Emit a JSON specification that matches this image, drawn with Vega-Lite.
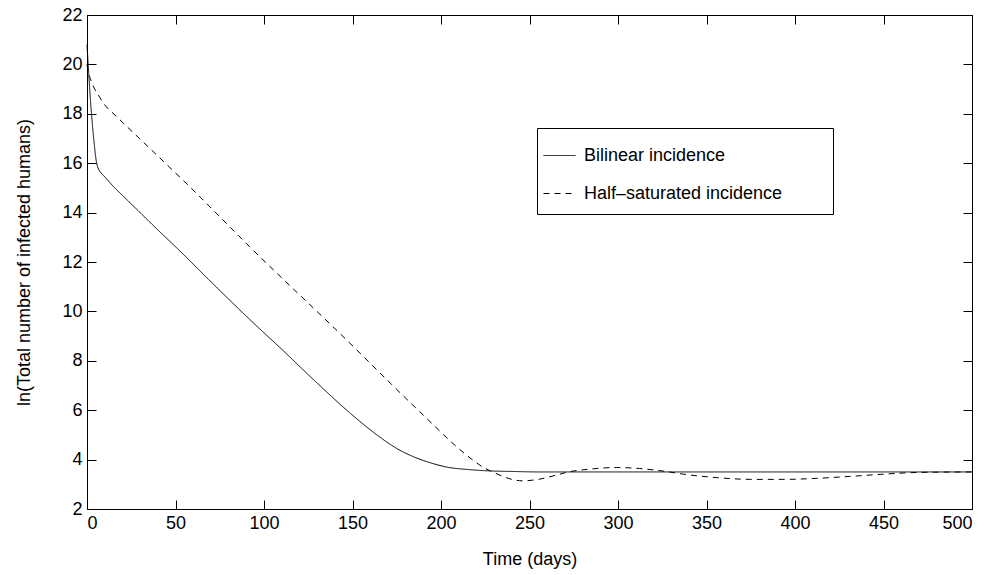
{
  "$schema": "https://vega.github.io/schema/vega-lite/v6.json",
  "width": 885,
  "height": 494,
  "autosize": {"type": "none"},
  "padding": {"left": 87, "top": 15, "right": 21, "bottom": 66},
  "background": "white",
  "config": {
    "font": "Liberation Sans",
    "view": {"stroke": "black", "strokeWidth": 1},
    "axis": {
      "grid": false,
      "domainColor": "black",
      "tickColor": "black",
      "labelColor": "black",
      "titleColor": "black",
      "labelFont": "Liberation Sans",
      "titleFont": "Liberation Sans",
      "labelFontSize": 18,
      "titleFontSize": 18,
      "titleFontWeight": "normal",
      "tickSize": -9,
      "tickWidth": 1,
      "domainWidth": 1
    }
  },
  "data": {
    "values": [
      {"t": 0, "v": 20.8, "series": "Bilinear incidence"},
      {"t": 0.5, "v": 20.2, "series": "Bilinear incidence"},
      {"t": 1, "v": 19.6, "series": "Bilinear incidence"},
      {"t": 2, "v": 18.5, "series": "Bilinear incidence"},
      {"t": 3, "v": 17.6, "series": "Bilinear incidence"},
      {"t": 4, "v": 16.85, "series": "Bilinear incidence"},
      {"t": 5, "v": 16.2, "series": "Bilinear incidence"},
      {"t": 6, "v": 15.85, "series": "Bilinear incidence"},
      {"t": 7, "v": 15.7, "series": "Bilinear incidence"},
      {"t": 8, "v": 15.6, "series": "Bilinear incidence"},
      {"t": 10, "v": 15.45, "series": "Bilinear incidence"},
      {"t": 15, "v": 15.05, "series": "Bilinear incidence"},
      {"t": 20, "v": 14.7, "series": "Bilinear incidence"},
      {"t": 30, "v": 14.0, "series": "Bilinear incidence"},
      {"t": 40, "v": 13.3, "series": "Bilinear incidence"},
      {"t": 52, "v": 12.48, "series": "Bilinear incidence"},
      {"t": 70, "v": 11.2, "series": "Bilinear incidence"},
      {"t": 92, "v": 9.67, "series": "Bilinear incidence"},
      {"t": 111, "v": 8.4, "series": "Bilinear incidence"},
      {"t": 130, "v": 7.1, "series": "Bilinear incidence"},
      {"t": 149, "v": 5.86, "series": "Bilinear incidence"},
      {"t": 164, "v": 4.99, "series": "Bilinear incidence"},
      {"t": 175, "v": 4.45, "series": "Bilinear incidence"},
      {"t": 185, "v": 4.1, "series": "Bilinear incidence"},
      {"t": 195, "v": 3.85, "series": "Bilinear incidence"},
      {"t": 203, "v": 3.7, "series": "Bilinear incidence"},
      {"t": 215, "v": 3.6, "series": "Bilinear incidence"},
      {"t": 228, "v": 3.54, "series": "Bilinear incidence"},
      {"t": 240, "v": 3.52, "series": "Bilinear incidence"},
      {"t": 256, "v": 3.5, "series": "Bilinear incidence"},
      {"t": 300, "v": 3.5, "series": "Bilinear incidence"},
      {"t": 400, "v": 3.5, "series": "Bilinear incidence"},
      {"t": 500, "v": 3.5, "series": "Bilinear incidence"},
      {"t": 0, "v": 20.0, "series": "Half–saturated incidence"},
      {"t": 0.7, "v": 19.7, "series": "Half–saturated incidence"},
      {"t": 2, "v": 19.4, "series": "Half–saturated incidence"},
      {"t": 4, "v": 19.05, "series": "Half–saturated incidence"},
      {"t": 6, "v": 18.81, "series": "Half–saturated incidence"},
      {"t": 9, "v": 18.46, "series": "Half–saturated incidence"},
      {"t": 17.3, "v": 17.85, "series": "Half–saturated incidence"},
      {"t": 31.4, "v": 16.88, "series": "Half–saturated incidence"},
      {"t": 58, "v": 15.05, "series": "Half–saturated incidence"},
      {"t": 92, "v": 12.61, "series": "Half–saturated incidence"},
      {"t": 149, "v": 8.68, "series": "Half–saturated incidence"},
      {"t": 172, "v": 7.05, "series": "Half–saturated incidence"},
      {"t": 190, "v": 5.8, "series": "Half–saturated incidence"},
      {"t": 209, "v": 4.51, "series": "Half–saturated incidence"},
      {"t": 218, "v": 3.98, "series": "Half–saturated incidence"},
      {"t": 224, "v": 3.68, "series": "Half–saturated incidence"},
      {"t": 228, "v": 3.54, "series": "Half–saturated incidence"},
      {"t": 235, "v": 3.32, "series": "Half–saturated incidence"},
      {"t": 240, "v": 3.2, "series": "Half–saturated incidence"},
      {"t": 246, "v": 3.14, "series": "Half–saturated incidence"},
      {"t": 255, "v": 3.2, "series": "Half–saturated incidence"},
      {"t": 265, "v": 3.37, "series": "Half–saturated incidence"},
      {"t": 272, "v": 3.5, "series": "Half–saturated incidence"},
      {"t": 285, "v": 3.62, "series": "Half–saturated incidence"},
      {"t": 299, "v": 3.68, "series": "Half–saturated incidence"},
      {"t": 312, "v": 3.64, "series": "Half–saturated incidence"},
      {"t": 326, "v": 3.53, "series": "Half–saturated incidence"},
      {"t": 337, "v": 3.41, "series": "Half–saturated incidence"},
      {"t": 356, "v": 3.27, "series": "Half–saturated incidence"},
      {"t": 375, "v": 3.2, "series": "Half–saturated incidence"},
      {"t": 394, "v": 3.2, "series": "Half–saturated incidence"},
      {"t": 412, "v": 3.24, "series": "Half–saturated incidence"},
      {"t": 431, "v": 3.32, "series": "Half–saturated incidence"},
      {"t": 450, "v": 3.41, "series": "Half–saturated incidence"},
      {"t": 465, "v": 3.47, "series": "Half–saturated incidence"},
      {"t": 478, "v": 3.49, "series": "Half–saturated incidence"},
      {"t": 500, "v": 3.5, "series": "Half–saturated incidence"}
    ]
  },
  "layer": [
    {
      "mark": {"type": "line", "interpolate": "monotone", "color": "black", "strokeWidth": 1},
      "encoding": {
        "x": {
          "field": "t", "type": "quantitative",
          "scale": {"domain": [0, 500], "nice": false},
          "axis": {"orient": "bottom", "values": [0, 50, 100, 150, 200, 250, 300, 350, 400, 450, 500], "title": "Time (days)", "labelPadding": 14, "titlePadding": 18}
        },
        "y": {
          "field": "v", "type": "quantitative",
          "scale": {"domain": [2, 22], "nice": false, "zero": false},
          "axis": {"orient": "left", "values": [2, 4, 6, 8, 10, 12, 14, 16, 18, 20, 22], "title": "ln(Total number of infected humans)", "labelPadding": 14, "titlePadding": 28}
        },
        "strokeDash": {
          "field": "series", "type": "nominal",
          "scale": {"domain": ["Bilinear incidence", "Half–saturated incidence"], "range": [[1, 0], [6, 5]]},
          "legend": {
            "orient": "none", "legendX": 450, "legendY": 113,
            "title": " ", "titleOrient": "right", "titlePadding": 40,
            "strokeColor": "black", "fillColor": "white", "padding": 11,
            "symbolType": "stroke", "symbolSize": 1024, "symbolStrokeColor": "black", "symbolStrokeWidth": 1,
            "symbolOffset": -5,
            "labelFontSize": 18, "labelColor": "black", "labelFont": "Liberation Sans", "labelOffset": 8, "labelLimit": 400,
            "rowPadding": 12
          }
        }
      }
    },
    {
      "mark": {"type": "line", "opacity": 0},
      "encoding": {
        "x": {"field": "t", "type": "quantitative", "axis": {"orient": "top", "values": [0, 50, 100, 150, 200, 250, 300, 350, 400, 450, 500], "labels": false, "title": null}},
        "y": {"field": "v", "type": "quantitative", "axis": {"orient": "right", "values": [2, 4, 6, 8, 10, 12, 14, 16, 18, 20, 22], "labels": false, "title": null}}
      }
    }
  ]
}
